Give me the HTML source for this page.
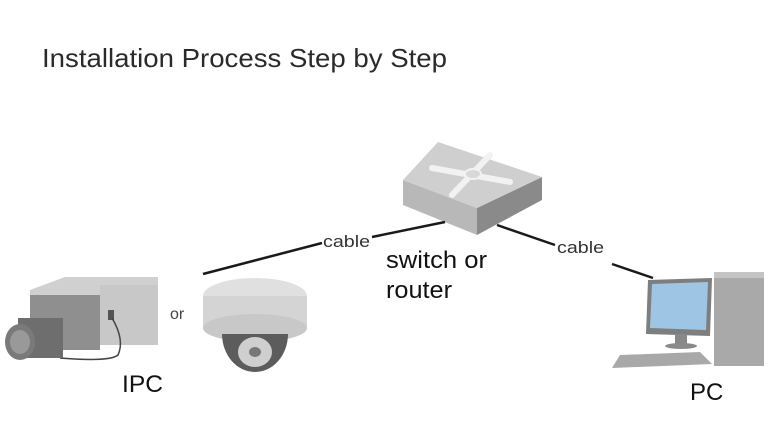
<!DOCTYPE html>
<html><head><meta charset="utf-8"><style>
html,body{margin:0;padding:0;background:#fff;width:768px;height:432px;overflow:hidden}
svg{display:block}
text{font-family:"Liberation Sans",sans-serif}
</style></head><body>
<svg width="768" height="432" viewBox="0 0 768 432">
<text x="42" y="67" font-size="26" fill="#2a2a2a" textLength="405" lengthAdjust="spacingAndGlyphs">Installation Process Step by Step</text>

<!-- switch -->
<polygon points="403,180 403,205 477,235 477,208" fill="#b8b8b8"/>
<polygon points="477,208 477,235 542,200 542,177" fill="#8a8a8a"/>
<polygon points="403,180 438,142 542,177 477,208" fill="#cfcfcf"/>
<g stroke="#f2f2f2" stroke-width="6" fill="none" stroke-linecap="round">
<line x1="432" y1="168" x2="510" y2="182"/>
<line x1="452" y1="195" x2="490" y2="155"/>
</g>
<ellipse cx="473" cy="174" rx="8" ry="5" fill="#d8d8d8" stroke="#f2f2f2" stroke-width="2"/>

<!-- cables -->
<g stroke="#1a1a1a" stroke-width="2.5">
<line x1="203" y1="274" x2="322" y2="243"/>
<line x1="372" y1="237" x2="445" y2="222"/>
<line x1="497" y1="225" x2="555" y2="245"/>
<line x1="612" y1="264" x2="653" y2="278"/>
</g>
<text x="323" y="247" font-size="17" fill="#333" textLength="47" lengthAdjust="spacingAndGlyphs">cable</text>
<text x="557" y="253" font-size="17" fill="#333" textLength="47" lengthAdjust="spacingAndGlyphs">cable</text>
<text x="386" y="268" font-size="24" fill="#111" textLength="101" lengthAdjust="spacingAndGlyphs">switch or</text>
<text x="386" y="298" font-size="24" fill="#111" textLength="66" lengthAdjust="spacingAndGlyphs">router</text>

<!-- PC -->
<rect x="714" y="272" width="50" height="94" fill="#a9a9a9"/>
<rect x="714" y="272" width="50" height="6" fill="#c4c4c4"/>
<polygon points="648,280 712,278 710,336 646,334" fill="#7e7e7e"/>
<polygon points="652,284 708,282 706,330 650,328" fill="#9ec6e4"/>
<rect x="675" y="334" width="12" height="10" fill="#888"/>
<ellipse cx="681" cy="346" rx="16" ry="3" fill="#8a8a8a"/>
<polygon points="620,355 700,352 712,364 612,368" fill="#a8a8a8"/>
<text x="690" y="400" font-size="24" fill="#111">PC</text>

<!-- box camera -->
<polygon points="30,290 65,277 158,277 158,340 30,345" fill="#d0d0d0"/>
<rect x="30" y="295" width="70" height="55" fill="#8f8f8f"/>
<rect x="100" y="285" width="58" height="60" fill="#c8c8c8"/>
<rect x="108" y="310" width="6" height="10" fill="#555"/>
<path d="M112 318 Q125 340 118 355 Q110 362 60 358" stroke="#444" stroke-width="1.5" fill="none"/>
<rect x="18" y="318" width="45" height="40" fill="#6e6e6e"/>
<ellipse cx="20" cy="342" rx="15" ry="18" fill="#7a7a7a"/>
<ellipse cx="20" cy="342" rx="10" ry="12" fill="#999"/>
<text x="170" y="319" font-size="16" fill="#444">or</text>

<!-- dome -->
<ellipse cx="255" cy="296" rx="52" ry="18" fill="#e0e0e0"/>
<rect x="203" y="296" width="104" height="32" fill="#d4d4d4"/>
<ellipse cx="255" cy="328" rx="52" ry="14" fill="#c8c8c8"/>
<path d="M222 334 A33 38 0 0 0 288 334 Z" fill="#5c5c5c"/>
<ellipse cx="255" cy="352" rx="17" ry="15" fill="#cfcfcf"/>
<ellipse cx="255" cy="352" rx="6" ry="5" fill="#777"/>
<text x="122" y="392" font-size="24" fill="#111" textLength="41" lengthAdjust="spacingAndGlyphs">IPC</text>
</svg>
</body></html>
